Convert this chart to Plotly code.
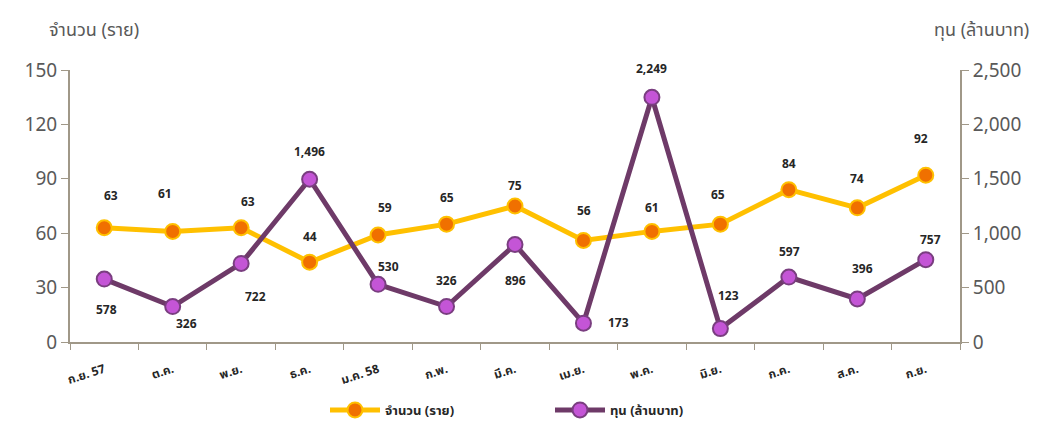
import plotly.graph_objects as go

months = ["ก.ย. 57", "ต.ค.", "พ.ย.", "ธ.ค.", "ม.ค. 58", "ก.พ.", "มี.ค.", "เม.ย.", "พ.ค.", "มิ.ย.", "ก.ค.", "ส.ค.", "ก.ย."]
count_cases = [63, 61, 63, 44, 59, 65, 75, 56, 61, 65, 84, 74, 92]
capital = [578, 326, 722, 1496, 530, 326, 896, 173, 2249, 123, 597, 396, 757]

# label placement offsets (pixels) – styling only
count_dx = [7, -8, 7, 0, 7, 0, 0, 1, 0, -2, 0, 0, -5]
count_dy = [32, 37, 26, 25, 27, 26, 20, 29, 23, 29, 26, 29, 36]
cap_dx = [2, 14, 14, 0, 10, 0, 0, 35, 0, 8, 1, 5, 5]
cap_dy = [-31, -17, -34, 27, 17, 26, -36, 0, 28, 33, 25, 30, 20]

axis_col = "#A09888"
txt_col = "#595959"
lbl_col = "#262626"
font_fam = "Tahoma, 'Noto Sans Thai', 'Liberation Sans', 'DejaVu Sans', sans-serif"

fig = go.Figure()
fig.add_trace(go.Scatter(
    x=months, y=count_cases, name="จำนวน (ราย)", mode="lines+markers",
    line=dict(color="#FFC000", width=5),
    marker=dict(size=15, color="#F07000", line=dict(color="#FFC000", width=2)),
))
fig.add_trace(go.Scatter(
    x=months, y=capital, name="ทุน (ล้านบาท)", mode="lines+markers", yaxis="y2",
    line=dict(color="#6E3A68", width=5),
    marker=dict(size=15, color="#C455D6", line=dict(color="#7A3E80", width=2)),
))

for m, v, dx, dy in zip(months, count_cases, count_dx, count_dy):
    fig.add_annotation(x=m, y=v, xref="x", yref="y", text=f"{v:,}", showarrow=False,
                       xshift=dx, yshift=dy,
                       font=dict(size=12, color=lbl_col, family=font_fam, weight="bold"))
for m, v, dx, dy in zip(months, capital, cap_dx, cap_dy):
    fig.add_annotation(x=m, y=v, xref="x", yref="y2", text=f"{v:,}", showarrow=False,
                       xshift=dx, yshift=dy,
                       font=dict(size=12, color=lbl_col, family=font_fam, weight="bold"))

fig.update_layout(
    width=1046, height=424,
    margin=dict(l=70, r=86, t=70, b=82),
    paper_bgcolor="white", plot_bgcolor="white",
    font=dict(family=font_fam, color=txt_col, size=16),
    showlegend=True,
    legend=dict(orientation="h", xref="container", x=325 / 1046, xanchor="left",
                yref="container", y=0.033, yanchor="middle",
                font=dict(size=13, color=lbl_col, weight="bold"),
                entrywidth=160, entrywidthmode="pixels", itemwidth=50),
    xaxis=dict(showgrid=False, showline=True, linecolor=axis_col, linewidth=2,
               range=[-0.5, 12.5], automargin=False,
               ticks="outside", tickson="boundaries", ticklen=6, tickcolor=axis_col,
               ticklabelstandoff=14,
               tickangle=-18, tickfont=dict(size=12, color=lbl_col, weight="bold")),
    yaxis=dict(range=[0, 150], tickvals=[0, 30, 60, 90, 120, 150], showgrid=False,
               showline=True, linecolor=axis_col, linewidth=2, ticks="outside",
               ticklen=7, tickcolor=axis_col, zeroline=False, automargin=False,
               tickfont=dict(size=19, color=txt_col)),
    yaxis2=dict(range=[0, 2500], tickvals=[0, 500, 1000, 1500, 2000, 2500],
                tickformat=",", overlaying="y", side="right", showgrid=False,
                showline=True, linecolor=axis_col, linewidth=2, ticks="outside",
                ticklen=7, tickcolor=axis_col, zeroline=False, automargin=False,
                tickfont=dict(size=19, color=txt_col)),
)
fig.add_annotation(text="จำนวน (ราย)", xref="paper", yref="paper",
                   x=(94 - 70) / 890, y=(342 - 30) / 272,
                   xanchor="center", yanchor="middle", showarrow=False,
                   font=dict(size=18, color=txt_col))
fig.add_annotation(text="ทุน (ล้านบาท)", xref="paper", yref="paper",
                   x=(981 - 70) / 890, y=(342 - 30) / 272,
                   xanchor="center", yanchor="middle", showarrow=False,
                   font=dict(size=18, color=txt_col))

fig.write_html("out.html")
